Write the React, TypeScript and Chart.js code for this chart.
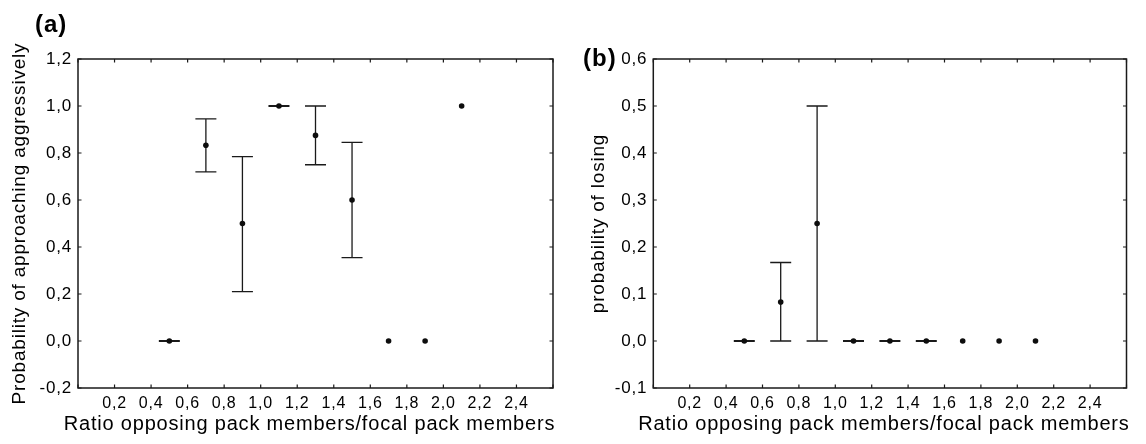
import React, { useEffect, useRef } from 'react';
import { Chart, registerables } from 'chart.js';

Chart.register(...registerables);

// ---------- data ----------
const ratioValues = [0.5, 0.7, 0.9, 1.1, 1.3, 1.5, 1.7, 1.9, 2.1];

const aggressiveMean = [0, 0.833, 0.5, 1.0, 0.875, 0.6, 0, 0, 1.0];
const aggressiveLower = [0, 0.72, 0.21, 1.0, 0.75, 0.355, null, null, null];
const aggressiveUpper = [0, 0.945, 0.785, 1.0, 1.0, 0.845, null, null, null];

const losingMean = [0, 0.083, 0.25, 0, 0, 0, 0, 0, 0];
const losingLower = [0, 0, 0, 0, 0, 0, null, null, null];
const losingUpper = [0, 0.167, 0.5, 0, 0, 0, null, null, null];

const xTickValues = [0, 0.2, 0.4, 0.6, 0.8, 1.0, 1.2, 1.4, 1.6, 1.8, 2.0, 2.2, 2.4, 2.6];
const xTickLabels = ['', '0,2', '0,4', '0,6', '0,8', '1,0', '1,2', '1,4', '1,6', '1,8', '2,0', '2,2', '2,4', ''];

const aggressiveTickValues = [-0.2, 0, 0.2, 0.4, 0.6, 0.8, 1.0, 1.2];
const aggressiveTickLabels = ['-0,2', '0,0', '0,2', '0,4', '0,6', '0,8', '1,0', '1,2'];

const losingTickValues = [-0.1, 0, 0.1, 0.2, 0.3, 0.4, 0.5, 0.6];
const losingTickLabels = ['-0,1', '0,0', '0,1', '0,2', '0,3', '0,4', '0,5', '0,6'];

const xTitle = 'Ratio opposing pack members/focal pack members';
const aggressiveTitle = 'Probability of approaching aggressively';
const losingTitle = 'probability of losing';

// ---------- style ----------
const FONT = "'Liberation Sans', Arial, Helvetica, sans-serif";
const TEXT_COLOR = '#000000';
const LINE_COLOR = '#1a1a1a';
const LETTER_SPACING = '0.8px';
const CAP = 10.5;
const TICK_LEN = 3.5;

const spacingPlugin = {
  id: 'letterSpacing',
  beforeUpdate(chart: any) {
    (chart.ctx as any).letterSpacing = LETTER_SPACING;
  },
  beforeLayout(chart: any) {
    (chart.ctx as any).letterSpacing = LETTER_SPACING;
  },
  beforeDraw(chart: any) {
    (chart.ctx as any).letterSpacing = LETTER_SPACING;
  },
};

function makeErrorBarPlugin(lower: (number | null)[], upper: (number | null)[]) {
  return {
    id: 'errorBars',
    beforeDatasetsDraw(chart: any) {
      const { ctx } = chart;
      const xs = chart.scales.x;
      const ys = chart.scales.y;
      ctx.save();
      ctx.strokeStyle = LINE_COLOR;
      ratioValues.forEach((v, i) => {
        const lo = lower[i];
        const hi = upper[i];
        if (lo == null || hi == null) return;
        const px = xs.getPixelForValue(v);
        const pl = ys.getPixelForValue(lo);
        const ph = ys.getPixelForValue(hi);
        ctx.lineWidth = lo === hi ? 2 : 1.3;
        ctx.beginPath();
        ctx.moveTo(px, pl);
        ctx.lineTo(px, ph);
        ctx.moveTo(px - CAP, pl);
        ctx.lineTo(px + CAP, pl);
        ctx.moveTo(px - CAP, ph);
        ctx.lineTo(px + CAP, ph);
        ctx.stroke();
      });
      ctx.restore();
    },
  };
}

const framePlugin = {
  id: 'frame',
  afterDraw(chart: any) {
    const { ctx, chartArea } = chart;
    const { left, right, top, bottom } = chartArea;
    const xs = chart.scales.x;
    const ys = chart.scales.y;
    ctx.save();
    ctx.strokeStyle = LINE_COLOR;
    ctx.lineWidth = 1.2;
    ctx.beginPath();
    xs.ticks.forEach((t: any) => {
      const px = xs.getPixelForValue(t.value);
      ctx.moveTo(px, bottom);
      ctx.lineTo(px, bottom - TICK_LEN);
      ctx.moveTo(px, top);
      ctx.lineTo(px, top + TICK_LEN);
    });
    ys.ticks.forEach((t: any) => {
      const py = ys.getPixelForValue(t.value);
      ctx.moveTo(left, py);
      ctx.lineTo(left + TICK_LEN, py);
      ctx.moveTo(right, py);
      ctx.lineTo(right - TICK_LEN, py);
    });
    ctx.stroke();
    ctx.lineWidth = 1.5;
    ctx.strokeRect(left, top, right - left, bottom - top);
    ctx.restore();
  },
};

// x-axis title drawn without Chart.js' maxWidth squeeze (it is wider than the plot area)
const xTitlePlugin = {
  id: 'xTitle',
  afterDraw(chart: any) {
    const { ctx, chartArea } = chart;
    ctx.save();
    (ctx as any).letterSpacing = LETTER_SPACING;
    ctx.font = `20px ${FONT}`;
    ctx.fillStyle = TEXT_COLOR;
    ctx.textAlign = 'center';
    ctx.textBaseline = 'alphabetic';
    ctx.fillText(xTitle, (chartArea.left + chartArea.right) / 2 - 6, chart.height - 14);
    ctx.restore();
  },
};

type PanelSpec = {
  mean: number[];
  lower: (number | null)[];
  upper: (number | null)[];
  yTickValues: number[];
  yTickLabels: string[];
  yMin: number;
  yMax: number;
  yTitle: string;
  yTitlePad: number;
  axisWidth: number;
  padRight: number;
};

function makeConfig(p: PanelSpec): any {
  const points = ratioValues.map((x, i) => ({ x, y: p.mean[i] }));
  return {
    type: 'scatter',
    data: {
      datasets: [
        {
          data: points,
          pointRadius: 2.8,
          pointHoverRadius: 2.8,
          pointBackgroundColor: '#0d0d0d',
          pointBorderWidth: 0,
          showLine: false,
        },
      ],
    },
    options: {
      animation: false,
      responsive: false,
      devicePixelRatio: 1,
      events: [],
      layout: { padding: { top: 59, right: p.padRight, left: 0, bottom: 0 } },
      plugins: {
        legend: { display: false },
        tooltip: { enabled: false },
      },
      scales: {
        x: {
          type: 'linear',
          position: 'bottom',
          min: 0,
          max: 2.6,
          afterBuildTicks: (s: any) => {
            s.ticks = xTickValues.map((v) => ({ value: v }));
          },
          afterFit: (s: any) => {
            s.height = 56;
          },
          grid: { display: false, drawTicks: false },
          border: { display: false },
          ticks: {
            padding: 5.5,
            maxRotation: 0,
            autoSkip: false,
            color: TEXT_COLOR,
            font: { family: FONT, size: 16 },
            callback: (_v: any, i: number) => xTickLabels[i],
          },
          title: { display: false },
        },
        y: {
          type: 'linear',
          position: 'left',
          min: p.yMin,
          max: p.yMax,
          afterBuildTicks: (s: any) => {
            s.ticks = p.yTickValues.map((v) => ({ value: v }));
          },
          afterFit: (s: any) => {
            s.width = p.axisWidth;
          },
          grid: { display: false, drawTicks: false },
          border: { display: false },
          ticks: {
            padding: 6,
            autoSkip: false,
            color: TEXT_COLOR,
            font: { family: FONT, size: 17 },
            callback: (_v: any, i: number) => p.yTickLabels[i],
          },
          title: {
            display: true,
            text: p.yTitle,
            color: TEXT_COLOR,
            font: { family: FONT, size: 19 },
            padding: { top: p.yTitlePad, bottom: 0 },
          },
        },
      },
    },
    plugins: [spacingPlugin, makeErrorBarPlugin(p.lower, p.upper), framePlugin, xTitlePlugin],
  };
}

function Panel({ spec, left, width }: { spec: PanelSpec; left: number; width: number }) {
  const ref = useRef<HTMLCanvasElement | null>(null);
  useEffect(() => {
    if (!ref.current) return;
    const chart = new Chart(ref.current, makeConfig(spec));
    return () => chart.destroy();
  }, []);
  return (
    <canvas
      ref={ref}
      width={width}
      height={444}
      style={{ position: 'absolute', left, top: 0, width, height: 444, display: 'block' }}
    />
  );
}

const panelA: PanelSpec = {
  mean: aggressiveMean,
  lower: aggressiveLower,
  upper: aggressiveUpper,
  yTickValues: aggressiveTickValues,
  yTickLabels: aggressiveTickLabels,
  yMin: -0.2,
  yMax: 1.2,
  yTitle: aggressiveTitle,
  yTitlePad: 8,
  axisWidth: 78,
  padRight: 22,
};

const panelB: PanelSpec = {
  mean: losingMean,
  lower: losingLower,
  upper: losingUpper,
  yTickValues: losingTickValues,
  yTickLabels: losingTickLabels,
  yMin: -0.1,
  yMax: 0.6,
  yTitle: losingTitle,
  yTitlePad: 11.9,
  axisWidth: 78.3,
  padRight: 19.5,
};

const labelStyle: React.CSSProperties = {
  position: 'absolute',
  fontFamily: FONT,
  fontWeight: 'bold',
  fontSize: 24,
  lineHeight: '24px',
  letterSpacing: '1px',
  color: '#000',
  whiteSpace: 'nowrap',
};

export default function App() {
  return (
    <div style={{ position: 'absolute', left: 0, top: 0, width: 1146, height: 444, background: '#fff', overflow: 'hidden' }}>
      <Panel spec={panelA} left={0} width={575} />
      <Panel spec={panelB} left={575} width={571} />
      <div style={{ ...labelStyle, left: 35, top: 11.7 }}>(a)</div>
      <div style={{ ...labelStyle, left: 583, top: 46.4 }}>(b)</div>
    </div>
  );
}
